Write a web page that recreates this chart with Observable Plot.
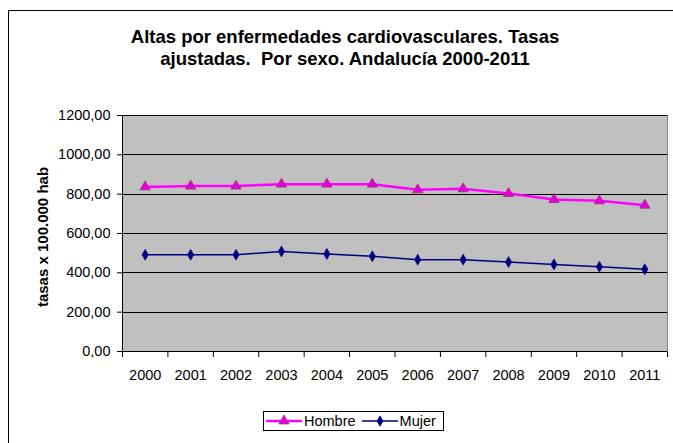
<!DOCTYPE html>
<html><head><meta charset="utf-8">
<script src="https://cdn.jsdelivr.net/npm/d3@7"></script>
<script src="https://cdn.jsdelivr.net/npm/@observablehq/plot@0.6"></script>
<style>
body{margin:0;background:#fff;font-family:Arial,"Liberation Sans",sans-serif;}
#wrap{position:relative;width:673px;height:443px;overflow:hidden;background:#fff}
#border{position:absolute;left:8px;top:10px;width:700px;height:500px;border:1.5px solid #000;box-sizing:border-box}
#title{position:absolute;left:0;width:690px;top:26px;text-align:center;font-weight:bold;font-size:18.5px;line-height:22px;color:#000}
#ylabel{position:absolute;left:42px;top:237px;transform:translate(-50%,-50%) rotate(-90deg);white-space:nowrap;font-weight:bold;font-size:15px;color:#000}
#chart{position:absolute;left:0;top:0}
#legend{position:absolute;left:263px;top:411px;width:181px;height:20px;border:1px solid #000;box-sizing:border-box;display:flex;align-items:center;font-size:14.5px;color:#000;background:#fff}
#legend svg{display:block}
</style></head>
<body>
<div id="wrap">
  <div id="border"></div>
  <div id="chart"></div>
  <div id="title">Altas por enfermedades cardiovasculares. Tasas<br>ajustadas.&nbsp; Por sexo. Andalucía 2000-2011</div>
  <div id="ylabel">tasas x 100.000 hab</div>
  <div id="legend"></div>
</div>
<script>
const years = [2000, 2001, 2002, 2003, 2004, 2005, 2006, 2007, 2008, 2009, 2010, 2011];
const hombre = [837, 841, 841, 851, 851, 851, 822, 827, 803, 773, 766, 744];
const mujer = [492, 492, 492, 509, 496, 484, 467, 467, 455, 443, 431, 418];
const yTicks = [0, 200, 400, 600, 800, 1000, 1200];
const seriesNames = ["Hombre", "Mujer"];

const rowsH = years.map((y, i) => ({year: y, value: hombre[i]}));
const rowsM = years.map((y, i) => ({year: y, value: mujer[i]}));
const bounds = [years[0] - 0.5, ...years.map(y => y + 0.5)];
const fmt = d => d3.format(".2f")(d).replace(".", ",");

const chart = Plot.plot({
  width: 673, height: 443,
  marginLeft: 122, marginRight: 6, marginTop: 115, marginBottom: 92,
  style: {fontFamily: "Arial, 'Liberation Sans', sans-serif", fontSize: "14.5px", color: "#000", background: "transparent"},
  x: {domain: [bounds[0], bounds[bounds.length - 1]], ticks: bounds, tickFormat: () => "", tickSize: 6, label: null, line: false},
  y: {domain: [0, 1200], ticks: yTicks, tickFormat: fmt, tickSize: 5, tickPadding: 7, label: null},
  marks: [
    Plot.frame({fill: "#c0c0c0", stroke: "#808080", shapeRendering: "crispEdges"}),
    Plot.ruleY(yTicks.slice(1), {stroke: "#000", strokeWidth: 1, shapeRendering: "crispEdges"}),
    Plot.ruleY([0], {stroke: "#000", strokeWidth: 1, shapeRendering: "crispEdges"}),
    Plot.ruleX([bounds[0]], {stroke: "#000", strokeWidth: 1, shapeRendering: "crispEdges"}),
    Plot.text(years, {x: d => d, text: d => String(d), frameAnchor: "bottom", dy: 18, lineAnchor: "top", fill: "#000", fontSize: 14.5}),
    Plot.line(rowsH, {x: "year", y: "value", stroke: "#ff00ff", strokeWidth: 2.5}),
    Plot.dot(rowsH, {x: "year", y: "value", symbol: "triangle", r: 3.8, fill: "#e600e6", stroke: "#993366", strokeWidth: 0.8}),
    Plot.line(rowsM, {x: "year", y: "value", stroke: "#000080", strokeWidth: 1.5}),
    Plot.dot(rowsM, {x: "year", y: "value", symbol: "diamond", r: 3.4, fill: "#000080", stroke: "#000080", strokeWidth: 0.5})
  ]
});
document.getElementById("chart").appendChild(chart);

// legend
const leg = document.getElementById("legend");
function item(name, color, sym, lw, fill, stroke) {
  const s = d3.create("svg").attr("width", 38).attr("height", 14);
  s.append("line").attr("x1", 2).attr("x2", 38).attr("y1", 7).attr("y2", 7).attr("stroke", color).attr("stroke-width", lw);
  s.append("path").attr("transform", "translate(20,7)")
    .attr("d", d3.symbol(sym, sym === d3.symbolTriangle ? 45 : 30)())
    .attr("fill", fill).attr("stroke", stroke).attr("stroke-width", 0.8);
  const span = document.createElement("span");
  span.textContent = name;
  span.style.marginLeft = "2px";
  span.style.marginRight = "4px";
  leg.appendChild(s.node());
  leg.appendChild(span);
}
item(seriesNames[0], "#ff00ff", d3.symbolTriangle, 2.5, "#e600e6", "#993366");
item(seriesNames[1], "#000080", d3.symbolDiamond, 1.5, "#000080", "#000080");
</script>
</body></html>
